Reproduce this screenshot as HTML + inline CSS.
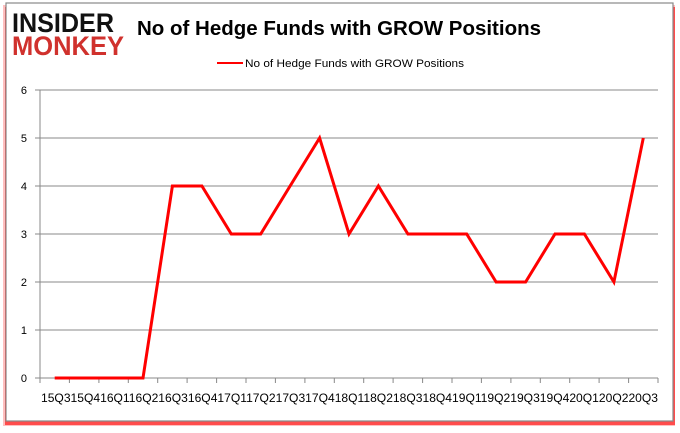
<!DOCTYPE html>
<html><head><style>
html,body{margin:0;padding:0;background:#fff;width:680px;height:433px;overflow:hidden}
svg{display:block}
</style></head><body>
<svg width="680" height="433" xmlns="http://www.w3.org/2000/svg" font-family="Liberation Sans, sans-serif">
<rect x="3" y="5" width="672" height="421" fill="#ff0000" opacity="0.25"/>
<rect x="5" y="7" width="670" height="418" fill="#ff0000" opacity="0.6"/>
<rect x="6" y="3" width="667" height="418" fill="#fff" stroke="#888" stroke-width="1.2"/>
<text x="12" y="32" font-size="27" font-weight="bold" fill="#111" textLength="102" lengthAdjust="spacingAndGlyphs">INSIDER</text>
<text x="12" y="55" font-size="27" font-weight="bold" fill="#d0312d" textLength="112" lengthAdjust="spacingAndGlyphs">MONKEY</text>
<text x="137" y="35" font-size="20" font-weight="bold" fill="#000" textLength="404" lengthAdjust="spacingAndGlyphs">No of Hedge Funds with GROW Positions</text>
<line x1="217" y1="63" x2="243" y2="63" stroke="#f00" stroke-width="2"/>
<text x="245" y="67" font-size="11" fill="#000" textLength="219" lengthAdjust="spacingAndGlyphs">No of Hedge Funds with GROW Positions</text>
<g stroke="#888" stroke-width="1">
<line x1="40" y1="90" x2="658" y2="90"/><line x1="40" y1="138" x2="658" y2="138"/>
<line x1="40" y1="186" x2="658" y2="186"/><line x1="40" y1="234" x2="658" y2="234"/>
<line x1="40" y1="282" x2="658" y2="282"/><line x1="40" y1="330" x2="658" y2="330"/>
<line x1="40" y1="378" x2="658" y2="378"/><line x1="40" y1="90" x2="40" y2="378"/>
<line x1="35" y1="90" x2="40" y2="90"/><line x1="35" y1="138" x2="40" y2="138"/><line x1="35" y1="186" x2="40" y2="186"/><line x1="35" y1="234" x2="40" y2="234"/><line x1="35" y1="282" x2="40" y2="282"/><line x1="35" y1="330" x2="40" y2="330"/><line x1="35" y1="378" x2="40" y2="378"/>
</g>
<g stroke="#888" id="ticks"></g>
<g font-size="11" fill="#000" text-anchor="end">
<text x="27" y="94">6</text><text x="27" y="142">5</text><text x="27" y="190">4</text><text x="27" y="238">3</text><text x="27" y="286">2</text><text x="27" y="334">1</text><text x="27" y="382">0</text>
</g>
<g stroke="#888">
<path d="M40 378v5M69.4 378v5M98.9 378v5M128.3 378v5M157.7 378v5M187.1 378v5M216.6 378v5M246 378v5M275.4 378v5M304.9 378v5M334.3 378v5M363.7 378v5M393.1 378v5M422.6 378v5M452 378v5M481.4 378v5M510.9 378v5M540.3 378v5M569.7 378v5M599.1 378v5M628.6 378v5M658 378v5"/>
</g>
<text x="41" y="402" font-size="11.5" fill="#000" textLength="617" lengthAdjust="spacingAndGlyphs">15Q315Q416Q116Q216Q316Q417Q117Q217Q317Q418Q118Q218Q318Q419Q119Q219Q319Q420Q120Q220Q3</text>
<polyline fill="none" stroke="#f00" stroke-width="3" stroke-linejoin="miter" points="54.7,378 84.1,378 113.6,378 143,378 172.4,186 201.9,186 231.3,234 260.7,234 290.1,186 319.6,138 349,234 378.4,186 407.9,234 437.3,234 466.7,234 496.1,282 525.6,282 555,234 584.4,234 613.9,282 643.3,138"/>
</svg>
</body></html>
